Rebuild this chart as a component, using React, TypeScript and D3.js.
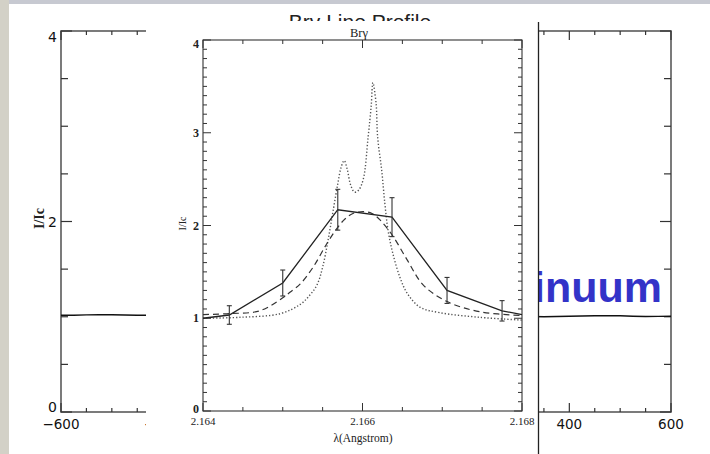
import React from 'react';
import * as d3 from 'd3';

// ---- velocity (continuum) panel data ----
const VEL = [-600, -575, -550, -525, -500, -475, -450, -425, -400, -375, -350, -325, -300, -275, -250, -225, -200, -175, -150, -125, -100, -75, -50, -25, 0, 25, 50, 75, 100, 125, 150, 175, 200, 225, 250, 275, 300, 325, 350, 375, 400, 425, 450, 475, 500, 525, 550, 575, 600];
const CONT = [1.015, 1.016, 1.02, 1.022, 1.021, 1.018, 1.016, 1.015, 1.016, 1.015, 1.014, 1.015, 1.016, 1.015, 1.014, 1.015, 1.016, 1.015, 1.014, 1.015, 1.016, 1.015, 1.014, 1.015, 1.016, 1.015, 1.014, 1.015, 1.014, 1.013, 1.012, 1.011, 1.01, 1.009, 1.008, 1.006, 1.004, 1.002, 1.0, 1.003, 1.005, 1.008, 1.011, 1.012, 1.01, 1.006, 1.003, 1.004, 1.005];
const VEL_XTICK_LABELS = ['−600', '−400', '−200', '0', '200', '400', '600'];
const VEL_XTICK_VALUES = [-600, -400, -200, 0, 200, 400, 600];
const VEL_YTICK_LABELS = ['0', '2', '4'];
const VEL_YTICK_VALUES = [0, 2, 4];

// ---- Br gamma panel data ----
const OBS_LAM = [2.16433, 2.165, 2.16569, 2.16637, 2.16706, 2.16775];
const OBS_I = [1.035, 1.38, 2.17, 2.09, 1.3, 1.08];
const OBS_ERR = [0.1, 0.14, 0.22, 0.21, 0.14, 0.11];
const SOLID_LAM = [2.164, 2.16433, 2.165, 2.16569, 2.16637, 2.16706, 2.16775, 2.168];
const SOLID_I = [1.0, 1.035, 1.38, 2.17, 2.09, 1.3, 1.08, 1.04];

const DASH_LAM = [2.164, 2.16433, 2.16471, 2.165, 2.16509, 2.16522, 2.16538, 2.16555, 2.16568, 2.16578, 2.16588, 2.16601, 2.16612, 2.16622, 2.16637, 2.16656, 2.16676, 2.16706, 2.16747, 2.168];
const DASH_I = [1.04, 1.05, 1.08, 1.22, 1.28, 1.37, 1.55, 1.8, 1.97, 2.07, 2.13, 2.15, 2.13, 2.06, 1.9, 1.63, 1.36, 1.18, 1.07, 1.03];

const DOT_LAM = [2.164, 2.16446, 2.16497, 2.16522, 2.16534, 2.16543, 2.1655, 2.16557, 2.16563, 2.16569, 2.16573, 2.16577, 2.16581, 2.16585, 2.1659, 2.16595, 2.16601, 2.16607, 2.16611, 2.16613, 2.16617, 2.16619, 2.16624, 2.16628, 2.16632, 2.16638, 2.16647, 2.16656, 2.16672, 2.16697, 2.16747, 2.168];
const DOT_I = [1.0, 1.01, 1.05, 1.15, 1.25, 1.36, 1.55, 1.85, 2.15, 2.45, 2.62, 2.7, 2.6, 2.44, 2.36, 2.38, 2.5, 2.95, 3.3, 3.54, 3.32, 2.95, 2.6, 2.24, 1.95, 1.7, 1.44, 1.27, 1.12, 1.06, 1.01, 0.98];

const BR_XTICK_LABELS = ['2.164', '2.166', '2.168'];
const BR_XTICK_VALUES = [2.164, 2.166, 2.168];
const BR_YTICK_LABELS = ['0', '1', '2', '3', '4'];
const BR_YTICK_VALUES = [0, 1, 2, 3, 4];

export default function App() {
  const W = 710, H = 454;

  // inserted (central) image extent
  const insetLeft = 146, insetRight = 538, insetTop = 21;

  // wide velocity panel
  const vx = d3.scaleLinear().domain([-600, 600]).range([61, 671]);
  const vy = d3.scaleLinear().domain([0, 4]).range([412, 31]);
  const vLine = d3.line<number>().x((_, i) => vx(VEL[i])).y(d => vy(d));
  const vMinorX = d3.range(-600, 601, 50);
  const vMinorY = d3.range(0, 4.01, 0.5);

  // central Br gamma panel
  const bx = d3.scaleLinear().domain([2.164, 2.168]).range([203, 522]);
  const by = d3.scaleLinear().domain([0, 4]).range([411, 40]);
  const bMinorX = d3.range(0, 9).map(i => 2.164 + i * 0.0005);
  const bMinorY = d3.range(0, 41).map(i => i * 0.1);

  const solid = d3.line<number>().x((_, i) => bx(SOLID_LAM[i])).y(d => by(d));
  const dashed = d3.line<number>().x((_, i) => bx(DASH_LAM[i])).y(d => by(d)).curve(d3.curveCatmullRom);
  const dotted = d3.line<number>().x((_, i) => bx(DOT_LAM[i])).y(d => by(d)).curve(d3.curveCatmullRom);

  const axisGray = '#5a5a5a';
  const sansLbl = "'DejaVu Sans', sans-serif";
  const serif = "'Liberation Serif', 'DejaVu Serif', serif";

  // vertical nudges so that end labels stay inside the frame, as in the source plots
  const vLabelDy = (v: number) => (v === 4 ? 11 : v === 0 ? 0 : 5);
  const bLabelDy = (v: number) => (v === 4 ? 8 : v === 0 ? 2 : 4);

  // velocity labels entirely hidden behind the inset are not drawn
  const visibleVelLabels = VEL_XTICK_VALUES
    .map((v, i) => ({ v, label: VEL_XTICK_LABELS[i] }))
    .filter(d => vx(d.v) < insetLeft + 20 || vx(d.v) > insetRight - 20);

  return (
    <svg width={W} height={H} viewBox={`0 0 ${W} ${H}`}
      style={{ position: 'fixed', left: 0, top: 0, display: 'block' }}>
      <defs>
        <clipPath id="titleClip">
          <rect x={0} y={0} width={W} height={insetTop} />
        </clipPath>
      </defs>
      {/* slide background */}
      <rect x={0} y={0} width={W} height={H} fill="#ffffff" />
      <rect x={0} y={0} width={W} height={4} fill="#c7c9d1" />
      <rect x={0} y={0} width={9} height={H} fill="#d3d1c7" />

      {/* wide velocity panel */}
      <g>
        <rect x={vx(-600)} y={vy(4)} width={vx(600) - vx(-600)} height={vy(0) - vy(4)}
          fill="none" stroke={axisGray} strokeWidth={1.6} />
        {vMinorX.map(v => {
          const major = v % 200 === 0;
          const len = major ? 9 : 4;
          return (
            <g key={'vx' + v}>
              <line x1={vx(v)} x2={vx(v)} y1={vy(0)} y2={vy(0) - len} stroke="#333" strokeWidth={1.2} />
              <line x1={vx(v)} x2={vx(v)} y1={vy(4)} y2={vy(4) + len} stroke="#333" strokeWidth={1.2} />
            </g>
          );
        })}
        {vMinorY.map(v => {
          const major = v % 2 === 0;
          const len = major ? 11 : 7;
          return (
            <g key={'vy' + v}>
              <line x1={vx(-600)} x2={vx(-600) + len} y1={vy(v)} y2={vy(v)} stroke="#333" strokeWidth={1.2} />
              <line x1={vx(600)} x2={vx(600) - len} y1={vy(v)} y2={vy(v)} stroke="#333" strokeWidth={1.2} />
            </g>
          );
        })}
        {visibleVelLabels.map(d => (
          <text key={'vxl' + d.v} x={vx(d.v)} y={429} textAnchor="middle" fontFamily={sansLbl}
            fontSize={13.5} fill="#111">{d.label}</text>
        ))}
        {VEL_YTICK_VALUES.map((v, i) => (
          <text key={'vyl' + v} x={57} y={vy(v) + vLabelDy(v)} textAnchor="end" fontFamily={sansLbl}
            fontSize={14} fill="#111">{VEL_YTICK_LABELS[i]}</text>
        ))}
        <text transform={`translate(44, ${vy(2) - 3}) rotate(-90)`} textAnchor="middle"
          fontFamily={serif} fontWeight="bold" fontSize={14} fill="#222">I/Ic</text>
        <path d={vLine(CONT) || ''} fill="none" stroke="#111" strokeWidth={1.4} />
      </g>

      {/* Continuum label */}
      <text x={662} y={302} textAnchor="end" fontFamily="'Liberation Sans', Arial, sans-serif"
        fontWeight="bold" fontSize={43} fill="#3333c8">Continuum</text>

      {/* slide title (lower part hidden behind the inserted plot) */}
      <text x={360} y={29} textAnchor="middle" fontFamily="'Liberation Sans', Arial, sans-serif"
        fontSize={21} fill="#222" clipPath="url(#titleClip)">Brγ Line Profile</text>

      {/* central inserted image */}
      <rect x={insetLeft} y={insetTop} width={insetRight - insetLeft} height={H - insetTop} fill="#ffffff" />
      <line x1={insetRight + 0.5} x2={insetRight + 0.5} y1={insetTop + 1} y2={H} stroke="#222" strokeWidth={1.3} />

      <g>
        <rect x={bx(2.164)} y={by(4)} width={bx(2.168) - bx(2.164)} height={by(0) - by(4)}
          fill="none" stroke="#333" strokeWidth={1.1} />
        {bMinorX.map((v, i) => {
          const major = i % 4 === 0;
          const len = major ? 8 : 4;
          return (
            <g key={'bx' + i}>
              <line x1={bx(v)} x2={bx(v)} y1={by(0)} y2={by(0) - len} stroke="#333" strokeWidth={1} />
              <line x1={bx(v)} x2={bx(v)} y1={by(4)} y2={by(4) + len} stroke="#333" strokeWidth={1} />
            </g>
          );
        })}
        {bMinorY.map((v, i) => {
          const major = i % 10 === 0;
          const len = major ? 8 : 4;
          return (
            <g key={'by' + i}>
              <line x1={bx(2.164)} x2={bx(2.164) + len} y1={by(v)} y2={by(v)} stroke="#333" strokeWidth={1} />
              <line x1={bx(2.168)} x2={bx(2.168) - len} y1={by(v)} y2={by(v)} stroke="#333" strokeWidth={1} />
            </g>
          );
        })}
        {BR_XTICK_VALUES.map((v, i) => (
          <text key={'bxl' + i} x={bx(v)} y={425} textAnchor="middle" fontFamily={serif}
            fontSize={11} fill="#222">{BR_XTICK_LABELS[i]}</text>
        ))}
        {BR_YTICK_VALUES.map((v, i) => (
          <text key={'byl' + i} x={199} y={by(v) + bLabelDy(v)} textAnchor="end" fontFamily={serif}
            fontWeight="bold" fontSize={12} fill="#222">{BR_YTICK_LABELS[i]}</text>
        ))}
        <text x={363} y={442} textAnchor="middle" fontFamily={serif} fontSize={11.5} fill="#222">λ(Angstrom)</text>
        <text x={359} y={37} textAnchor="middle" fontFamily={serif} fontSize={12.5} fill="#222">Brγ</text>
        <text transform={`translate(186, ${by(2) - 2}) rotate(-90)`} textAnchor="middle"
          fontFamily={serif} fontSize={10} fill="#222">I/Ic</text>

        {/* model curves */}
        <path d={dotted(DOT_I) || ''} fill="none" stroke="#555" strokeWidth={1.4} strokeDasharray="1.3 2" />
        <path d={dashed(DASH_I) || ''} fill="none" stroke="#333" strokeWidth={1.2} strokeDasharray="6 4" />
        {/* observed profile */}
        <path d={solid(SOLID_I) || ''} fill="none" stroke="#222" strokeWidth={1.3} />
        {OBS_LAM.map((l, i) => (
          <g key={'err' + i} stroke="#333" strokeWidth={1.1}>
            <line x1={bx(l)} x2={bx(l)} y1={by(OBS_I[i] + OBS_ERR[i])} y2={by(OBS_I[i] - OBS_ERR[i])} />
            <line x1={bx(l) - 2.5} x2={bx(l) + 2.5} y1={by(OBS_I[i] + OBS_ERR[i])} y2={by(OBS_I[i] + OBS_ERR[i])} />
            <line x1={bx(l) - 2.5} x2={bx(l) + 2.5} y1={by(OBS_I[i] - OBS_ERR[i])} y2={by(OBS_I[i] - OBS_ERR[i])} />
          </g>
        ))}
      </g>
    </svg>
  );
}
